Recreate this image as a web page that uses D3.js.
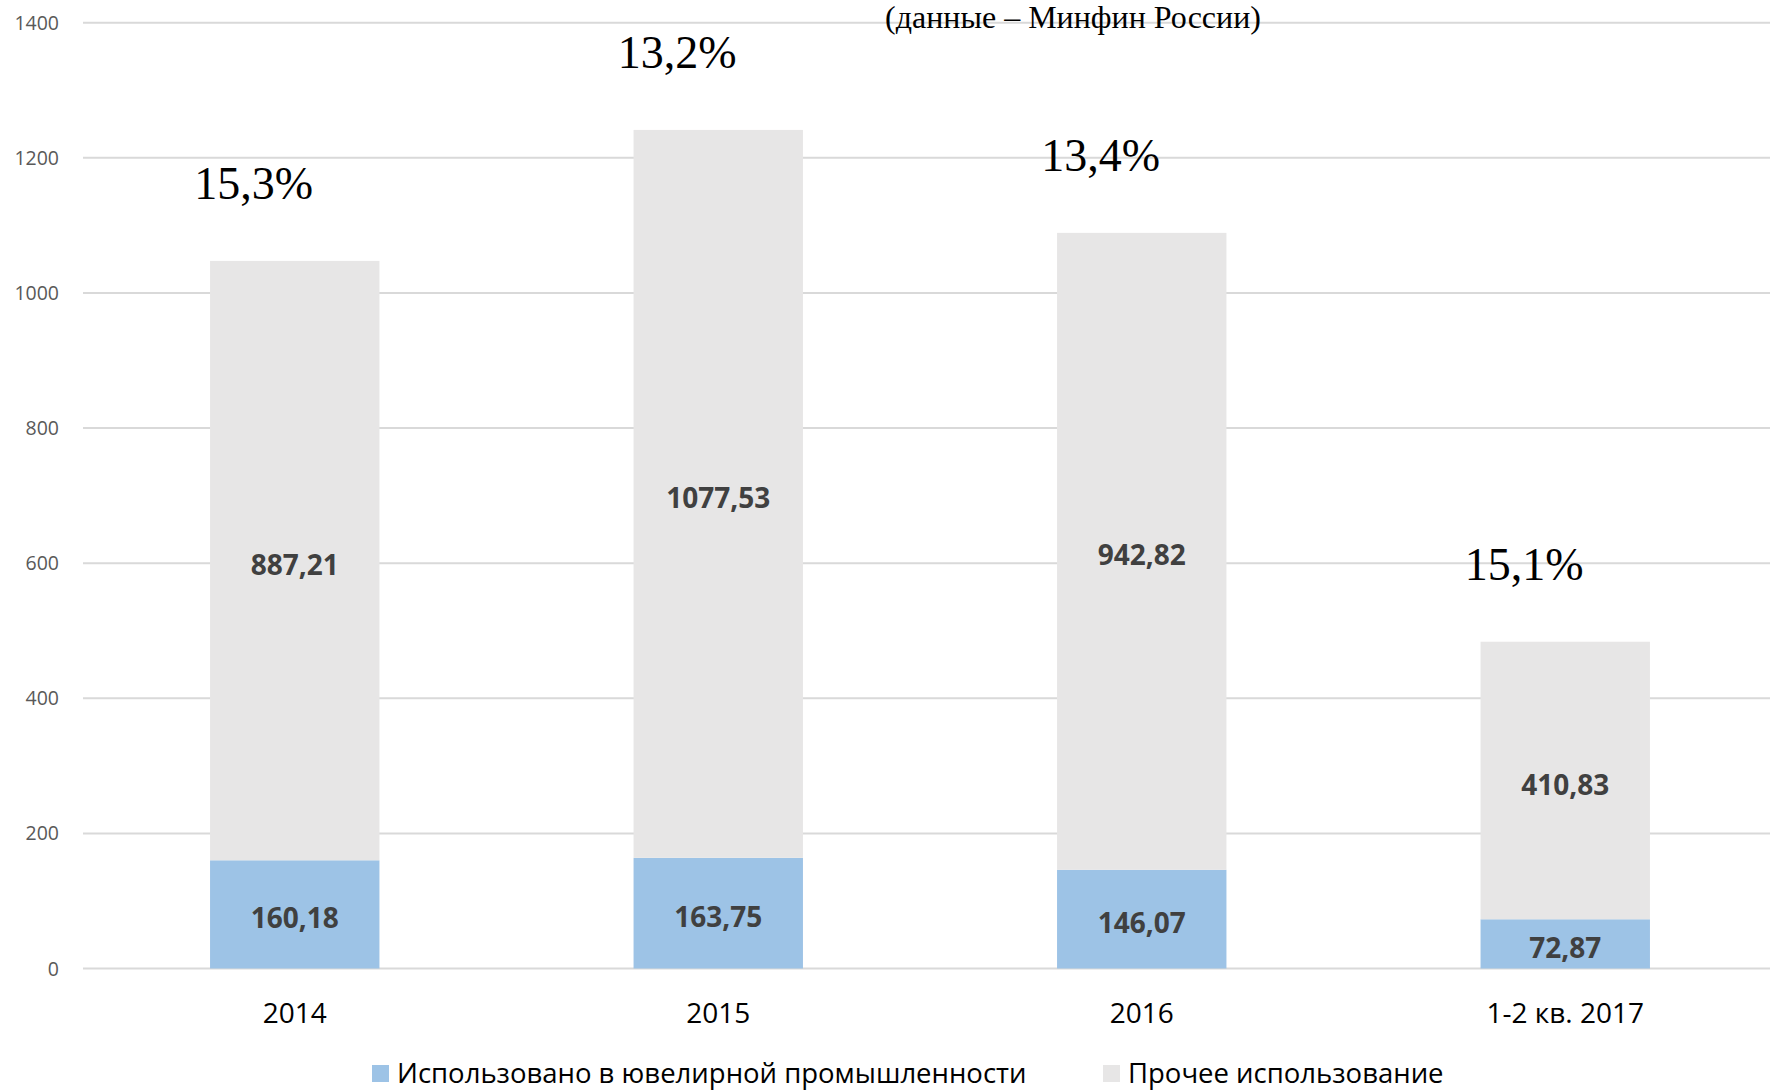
<!DOCTYPE html>
<html>
<head>
<meta charset="utf-8">
<script src="https://cdn.jsdelivr.net/npm/d3@7"></script>
<style>
  body { margin: 0; background: #fff; }
  svg { display: block; }
</style>
</head>
<body>
<div id="chart"></div>
<script>
    // categories and series
    var categories = ["2014", "2015", "2016", "1-2 кв. 2017"];
    var jewelry = [160.18, 163.75, 146.07, 72.87];
    var other = [887.21, 1077.53, 942.82, 410.83];
    var shares = ["15,3%", "13,2%", "13,4%", "15,1%"];
    var yTicks = [0, 200, 400, 600, 800, 1000, 1200, 1400];
    var seriesNames = ["Использовано в ювелирной промышленности", "Прочее использование"];
    var colors = ["#9DC3E6", "#E7E6E6"];

    var width = 1770,
        height = 1091;
    var plotLeft = 83, plotRight = 1777, plotTop = 22.7, plotBottom = 968.5;

    var svg = d3.select("#chart").append("svg")
        .attr("width", width)
        .attr("height", height);

    var x = d3.scaleBand()
        .domain(categories)
        .range([plotLeft, plotRight])
        .paddingInner(0.6)
        .paddingOuter(0.3);

    var y = d3.scaleLinear()
        .domain([0, 1400])
        .range([plotBottom, plotTop]);

    // gridlines
    svg.append("g").selectAll("line")
        .data(yTicks)
        .enter().append("line")
        .attr("x1", plotLeft)
        .attr("x2", width)
        .attr("y1", function (d) { return y(d); })
        .attr("y2", function (d) { return y(d); })
        .attr("stroke", "#D9D9D9")
        .attr("stroke-width", 2);

    // y tick labels
    svg.append("g").selectAll("text")
        .data(yTicks)
        .enter().append("text")
        .attr("x", 59)
        .attr("y", function (d) { return y(d); })
        .attr("dy", "0.36em")
        .attr("text-anchor", "end")
        .attr("font-family", "Open Sans")
        .attr("font-size", 19.5)
        .attr("fill", "#595959")
        .text(function (d) { return d; });

    var rows = categories.map(function (c, i) {
        return {cat: c, jewelry: jewelry[i], other: other[i], share: shares[i]};
    });
    var stacked = d3.stack().keys(["jewelry", "other"])(rows);

    var layer = svg.append("g").selectAll("g")
        .data(stacked)
        .enter().append("g")
        .attr("fill", function (d, i) { return colors[i]; });

    layer.selectAll("rect")
        .data(function (d) { return d; })
        .enter().append("rect")
        .attr("x", function (d) { return x(d.data.cat); })
        .attr("width", x.bandwidth())
        .attr("y", function (d) { return y(d[1]); })
        .attr("height", function (d) { return y(d[0]) - y(d[1]); });

    // value labels inside segments
    layer.selectAll("text")
        .data(function (d) { return d; })
        .enter().append("text")
        .attr("x", function (d) { return x(d.data.cat) + x.bandwidth() / 2; })
        .attr("y", function (d) {
            var mid = (y(d[0]) + y(d[1])) / 2 + 4;
            return Math.min(mid, plotBottom - 18);
        })
        .attr("dy", "0.36em")
        .attr("text-anchor", "middle")
        .attr("font-family", "Open Sans")
        .attr("font-weight", "bold")
        .attr("font-size", 28)
        .attr("fill", "#404040")
        .text(function (d) { return d3.format(".2f")(d[1] - d[0]).replace(".", ","); });

    // x labels
    svg.append("g").selectAll("text")
        .data(categories)
        .enter().append("text")
        .attr("x", function (d) { return x(d) + x.bandwidth() / 2; })
        .attr("y", 1023)
        .attr("text-anchor", "middle")
        .attr("font-family", "Open Sans")
        .attr("font-size", 28)
        .attr("fill", "#000")
        .text(function (d) { return d; });

    // share annotations above bars
    svg.append("g").selectAll("text")
        .data(rows)
        .enter().append("text")
        .attr("x", function (d) { return x(d.cat) + x.bandwidth() / 2 - 41; })
        .attr("y", function (d) { return y(d.jewelry + d.other) - 62; })
        .attr("text-anchor", "middle")
        .attr("font-family", "Liberation Serif")
        .attr("font-size", 46)
        .attr("fill", "#000")
        .text(function (d) { return d.share; });

    // subtitle
    svg.append("text")
        .attr("x", 1073)
        .attr("y", 28)
        .attr("text-anchor", "middle")
        .attr("font-family", "Liberation Serif")
        .attr("font-size", 32)
        .attr("fill", "#000")
        .text("(данные – Минфин России)");

    // legend
    var legendX = [372, 1103];
    var legend = svg.append("g").selectAll("g")
        .data(seriesNames)
        .enter().append("g")
        .attr("transform", function (d, i) { return "translate(" + legendX[i] + ",1073)"; });

    legend.append("rect")
        .attr("x", 0)
        .attr("y", -8)
        .attr("width", 17)
        .attr("height", 17)
        .attr("fill", function (d, i) { return colors[i]; });

    legend.append("text")
        .attr("x", 25)
        .attr("y", 0)
        .attr("dy", "0.36em")
        .attr("font-family", "Open Sans")
        .attr("font-size", 27.5)
        .attr("fill", "#000")
        .text(function (d) { return d; });
</script>
</body>
</html>
